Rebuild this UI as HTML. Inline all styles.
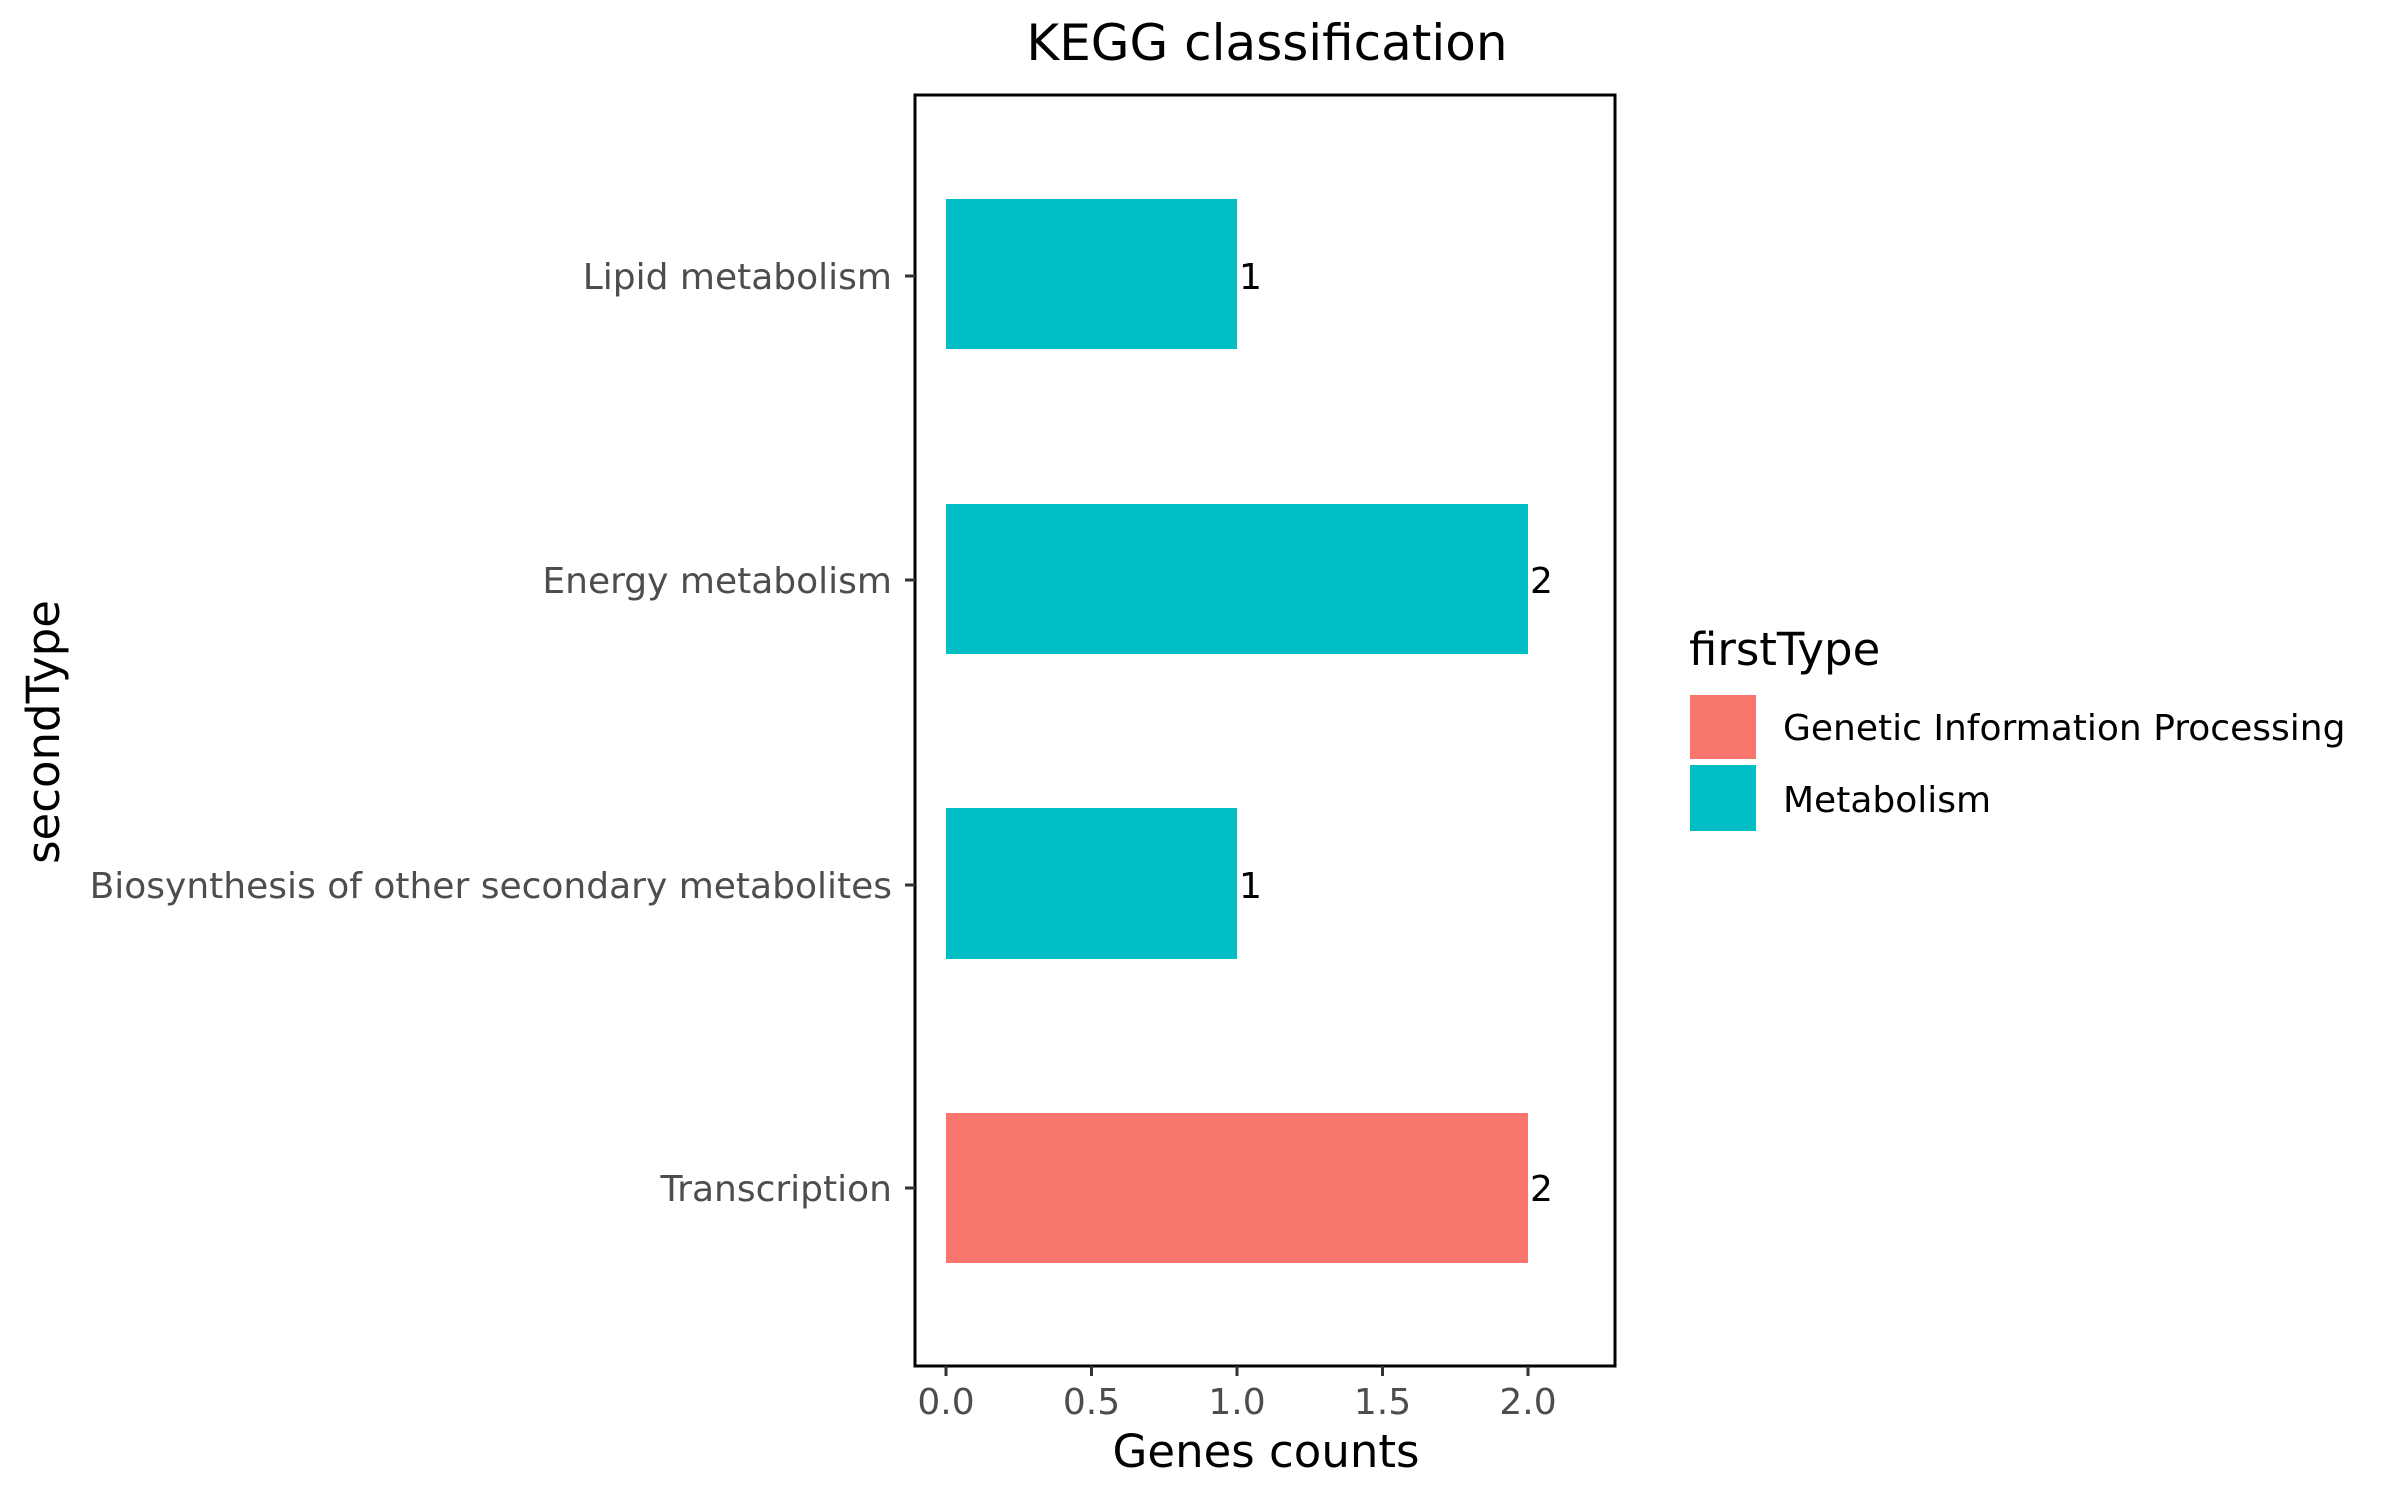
<!DOCTYPE html>
<html><head><meta charset="utf-8"><style>body{margin:0;background:#fff}</style></head>
<body>
<svg width="2400" height="1500" viewBox="0 0 2400 1500" xmlns="http://www.w3.org/2000/svg" font-family="'DejaVu Sans','Liberation Sans',sans-serif">
<rect width="2400" height="1500" fill="#fff"/>
<text x="1267" y="60" font-size="50" text-anchor="middle" fill="#000">KEGG classification</text>
<rect x="946" y="199" width="291" height="150" fill="#00BFC4"/>
<rect x="946" y="504" width="582" height="150" fill="#00BFC4"/>
<rect x="946" y="808" width="291" height="151" fill="#00BFC4"/>
<rect x="946" y="1113" width="582" height="150" fill="#F8766D"/>
<g font-size="36" fill="#000">
<text x="1239" y="289">1</text>
<text x="1530" y="593">2</text>
<text x="1239" y="898">1</text>
<text x="1530" y="1201">2</text>
</g>
<rect x="915" y="95" width="700" height="1271" fill="none" stroke="#000" stroke-width="3"/>
<g stroke="#333" stroke-width="3">
<line x1="905" y1="276" x2="915" y2="276"/><line x1="905" y1="580" x2="915" y2="580"/>
<line x1="905" y1="885" x2="915" y2="885"/><line x1="905" y1="1188" x2="915" y2="1188"/>
<line x1="946" y1="1366" x2="946" y2="1376"/><line x1="1091.5" y1="1366" x2="1091.5" y2="1376"/>
<line x1="1237" y1="1366" x2="1237" y2="1376"/><line x1="1382.5" y1="1366" x2="1382.5" y2="1376"/>
<line x1="1528" y1="1366" x2="1528" y2="1376"/>
</g>
<g font-size="36" fill="#4d4d4d" text-anchor="end">
<text x="892" y="289">Lipid metabolism</text>
<text x="892" y="593">Energy metabolism</text>
<text x="892" y="898">Biosynthesis of other secondary metabolites</text>
<text x="892" y="1201">Transcription</text>
</g>
<g font-size="36" fill="#4d4d4d" text-anchor="middle">
<text x="946" y="1414">0.0</text><text x="1091.5" y="1414">0.5</text><text x="1237" y="1414">1.0</text>
<text x="1382.5" y="1414">1.5</text><text x="1528" y="1414">2.0</text>
</g>
<text x="1266" y="1467" font-size="45" text-anchor="middle">Genes counts</text>
<text transform="translate(59,732) rotate(-90)" font-size="45" text-anchor="middle">secondType</text>
<text x="1689" y="665" font-size="45">firstType</text>
<rect x="1690" y="695" width="66" height="64" fill="#F8766D"/>
<rect x="1690" y="765" width="66" height="66" fill="#00BFC4"/>
<g font-size="36" fill="#000">
<text x="1783" y="740">Genetic Information Processing</text>
<text x="1783" y="812">Metabolism</text>
</g>
</svg>
</body></html>
